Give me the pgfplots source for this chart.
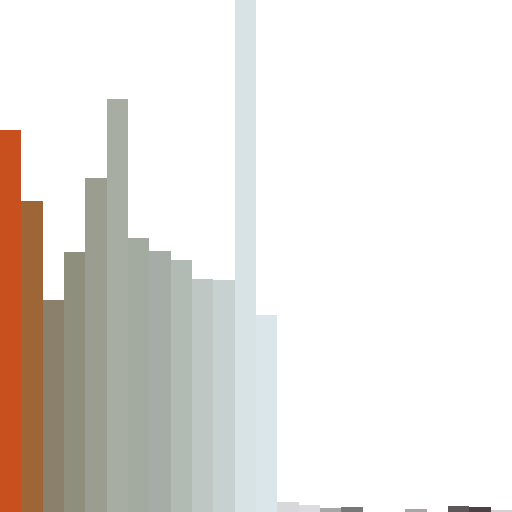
\documentclass[border=0pt]{standalone}
\usepackage{pgfplots}
\pgfplotsset{compat=1.18}
\definecolor{c1}{HTML}{C8501E}
\definecolor{c2}{HTML}{9E6536}
\definecolor{c3}{HTML}{8B806C}
\definecolor{c4}{HTML}{8E8F7D}
\definecolor{c5}{HTML}{9A9D90}
\definecolor{c6}{HTML}{A8ADA3}
\definecolor{c7}{HTML}{A3AAA0}
\definecolor{c8}{HTML}{A5ADA6}
\definecolor{c9}{HTML}{B1BAB3}
\definecolor{c10}{HTML}{BEC7C3}
\definecolor{c11}{HTML}{C7D1CF}
\definecolor{c12}{HTML}{D8E3E6}
\definecolor{c13}{HTML}{DBE6EA}
\definecolor{c14}{HTML}{D8D8DA}
\definecolor{c15}{HTML}{DCDCDF}
\definecolor{c16}{HTML}{A8A8AA}
\definecolor{c17}{HTML}{787879}
\definecolor{c20}{HTML}{ABA5AA}
\definecolor{c22}{HTML}{5E5759}
\definecolor{c23}{HTML}{4A4143}
\definecolor{c24}{HTML}{D9CDD0}
\begin{document}
\begin{tikzpicture}
\path[use as bounding box] (0,0) rectangle (7in,7in);
\begin{axis}[
  at={(0,0)}, anchor=south west,
  width=7in, height=7in, scale only axis,
  hide axis,
  xmin=0.5, xmax=24.5, ymin=0, ymax=512,
  ybar, bar width=1, bar shift=0pt,
  clip=true,
  every axis plot/.append style={draw=none},
]
\addplot[fill=c1] coordinates {(1,382)};
\addplot[fill=c2] coordinates {(2,311)};
\addplot[fill=c3] coordinates {(3,212)};
\addplot[fill=c4] coordinates {(4,260)};
\addplot[fill=c5] coordinates {(5,334)};
\addplot[fill=c6] coordinates {(6,413)};
\addplot[fill=c7] coordinates {(7,274)};
\addplot[fill=c8] coordinates {(8,261)};
\addplot[fill=c9] coordinates {(9,252)};
\addplot[fill=c10] coordinates {(10,233)};
\addplot[fill=c11] coordinates {(11,232)};
\addplot[fill=c12] coordinates {(12,530)};
\addplot[fill=c13] coordinates {(13,197)};
\addplot[fill=c14] coordinates {(14,10)};
\addplot[fill=c15] coordinates {(15,7)};
\addplot[fill=c16] coordinates {(16,4)};
\addplot[fill=c17] coordinates {(17,5)};
\addplot[fill=c20] coordinates {(20,3)};
\addplot[fill=c22] coordinates {(22,6)};
\addplot[fill=c23] coordinates {(23,5)};
\addplot[fill=c24] coordinates {(24,2)};
\end{axis}
\end{tikzpicture}
\end{document}
